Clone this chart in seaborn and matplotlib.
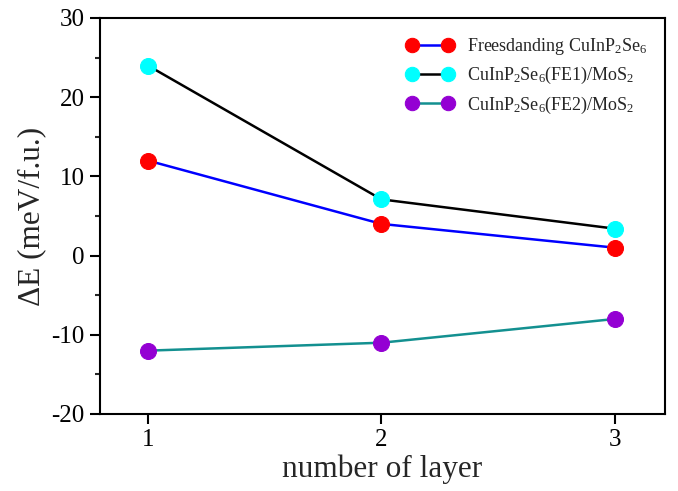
import matplotlib
matplotlib.use("Agg")
import matplotlib.pyplot as plt
import seaborn as sns
import pandas as pd
from matplotlib.ticker import MultipleLocator

layers = [1, 2, 3]
free = [12.0, 4.0, 1.0]
fe1 = [24.0, 7.1, 3.4]
fe2 = [-12.0, -11.0, -8.0]
labels = [
    r"Freesdanding CuInP$_{\mathrm{2}}$Se$_{\mathrm{6}}$",
    r"CuInP$_{\mathrm{2}}$Se$_{\mathrm{6}}$(FE1)/MoS$_{\mathrm{2}}$",
    r"CuInP$_{\mathrm{2}}$Se$_{\mathrm{6}}$(FE2)/MoS$_{\mathrm{2}}$",
]
line_colors = ["#0000ff", "#000000", "#139090"]
marker_colors = ["#ff0000", "#00ffff", "#9400d3"]

sns.set_theme(style="ticks")
plt.rcParams["font.family"] = ["Liberation Serif", "DejaVu Serif"]
plt.rcParams["mathtext.fontset"] = "custom"
plt.rcParams["mathtext.rm"] = "Liberation Serif"
plt.rcParams["mathtext.it"] = "Liberation Serif:italic"
plt.rcParams["axes.unicode_minus"] = False

fig = plt.figure(figsize=(6.78, 4.91), dpi=100)
ax = fig.add_axes([100/678, 1-414/491, 565/678, 396/491])

for vals, lab, lc, mc in zip([free, fe1, fe2], labels, line_colors, marker_colors):
    df = pd.DataFrame({"layer": layers, "dE": vals})
    sns.lineplot(data=df, x="layer", y="dE", ax=ax, color=lc, linewidth=1.8,
                 marker="o", markersize=11.5, markerfacecolor=mc, markeredgecolor=mc,
                 label=lab)

ax.set_xlim(0.795, 3.214)
ax.set_ylim(-20, 30)
ax.set_xticks(layers)
ax.yaxis.set_major_locator(MultipleLocator(10))
ax.yaxis.set_minor_locator(MultipleLocator(5))
ax.tick_params(axis="both", which="major", direction="out", length=7, width=1.5,
               labelsize=18, colors="black", top=False, right=False, pad=4)
ax.tick_params(axis="y", which="minor", direction="out", length=3.5, width=1.5, right=False)
for s in ax.spines.values():
    s.set_linewidth(1.5)
    s.set_color("black")
ax.set_xlabel("number of layer", fontsize=22.5, labelpad=2)
ax.set_ylabel("ΔE (meV/f.u.)", fontsize=22.5, labelpad=4)

leg = ax.legend(loc="upper right", bbox_to_anchor=(0.997, 0.995), frameon=False,
                fontsize=13, numpoints=2, handlelength=2.6, handletextpad=0.75,
                labelspacing=0.45, markerscale=0.9)
fig.savefig("out.png", dpi=100)
